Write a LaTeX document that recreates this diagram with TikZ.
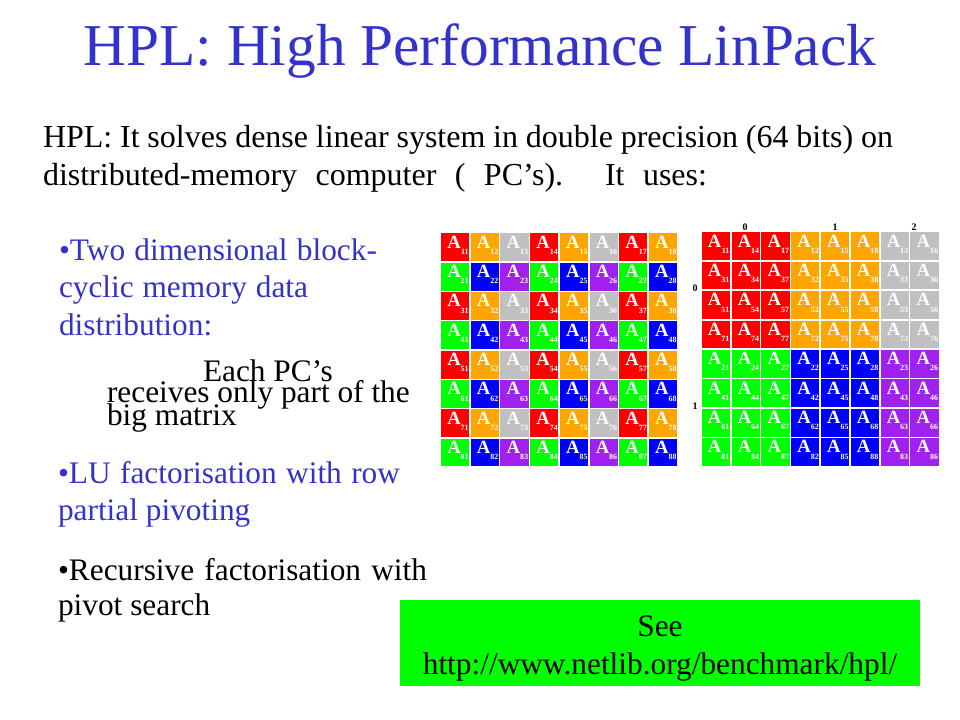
\documentclass[tikz,border=0pt]{standalone}
\usepackage{fontspec}
\setmainfont{Liberation Serif}
\usetikzlibrary{calc}
\definecolor{slideblue}{RGB}{51,51,204}
\definecolor{c11}{RGB}{255,0,0}
\definecolor{c12}{RGB}{255,165,0}
\definecolor{c10}{RGB}{192,192,192}
\definecolor{c01}{RGB}{0,255,0}
\definecolor{c02}{RGB}{0,0,255}
\definecolor{c00}{RGB}{160,32,240}
\definecolor{boxgreen}{RGB}{0,255,0}
\begin{document}
\begin{tikzpicture}[x=0.75pt,y=-0.75pt,
  txt/.style={anchor=base west, inner sep=0pt, outer sep=0pt},
  cell/.style={anchor=north west, minimum width=21.2pt, minimum height=20.85pt, inner sep=0pt, outer sep=0pt, draw=none},
  alab/.style={anchor=base west, inner sep=0pt, text=white, font=\fontsize{14}{14}\selectfont\bfseries},
  sublab/.style={anchor=base east, inner sep=0pt, text=white, font=\fontsize{6}{6}\selectfont\bfseries},
  axlab/.style={inner sep=0pt, font=\fontsize{7.5}{7.5}\selectfont\bfseries},
  bodytext/.style={txt, font=\fontsize{24}{28}\selectfont},
  bultext/.style={txt, font=\fontsize{23.5}{27}\selectfont},
  boxtext/.style={anchor=base, inner sep=0pt, font=\fontsize{23.5}{27}\selectfont},
]
\fill[white] (0,0) rectangle (960,720);
\useasboundingbox (0,0) rectangle (960,720);

% title
\node[anchor=base, inner sep=0pt, text=slideblue, font=\fontsize{44.5}{52}\selectfont] (title) at (480,65.5) {HPL: High Performance LinPack};

% body
\node[bodytext] (body1) at (43,147.3) {\makebox[637.5pt][s]{HPL: It solves dense linear system in double precision (64 bits) on}};
\node[bodytext] (body2) at (43,186) {\makebox[498pt][s]{distributed-memory computer ( PC’s). It uses:}};

% bullets
\node[bultext, text=slideblue] (b1a) at (59,261) {\makebox[238.5pt][s]{•Two dimensional block-}};
\node[bultext, text=slideblue] (b1b) at (59,297) {\makebox[186.75pt][s]{cyclic memory data}};
\node[bultext, text=slideblue] (b1c) at (59,335) {distribution:};
\node[bultext] (n1) at (203,381) {Each PC’s};
\node[bultext] (n2) at (107,402) {receives only part of the};
\node[bultext] (n3) at (107,425) {big matrix};
\node[bultext, text=slideblue] (b2a) at (58,483) {\makebox[256.5pt][s]{•LU factorisation with row}};
\node[bultext, text=slideblue] (b2b) at (58,520) {partial pivoting};
\node[bultext] (b3a) at (58,580) {\makebox[276.75pt][s]{•Recursive factorisation with}};
\node[bultext] (b3b) at (58,615) {pivot search};

% green box
\node[fill=boxgreen, anchor=north west, minimum width=390pt, minimum height=64.5pt, inner sep=0pt] (seebox) at (400,600) {};
\node[boxtext] (see) at (660,636) {See};
\node[boxtext] (url) at (660,674) {http://www.netlib.org/benchmark/hpl/};

% left matrix
\foreach \i in {1,...,8}{
  \foreach \j in {1,...,8}{
    \pgfmathtruncatemacro\rp{mod(\i,2)}
    \pgfmathtruncatemacro\cm{mod(\j,3)}
    \node[cell, fill=c\rp\cm] (L\i\j) at ({441+29.7*(\j-1)},{233.5+29.3*(\i-1)}) {};
    \node[alab] (LA\i\j) at ($(L\i\j.north west)+(6,14.8)$) {A};
    \node[sublab] (LS\i\j) at ($(L\i\j.north east)+(-0.3,21)$) {\i\j};
  }
}

% right matrix
\foreach \i [count=\r] in {1,3,5,7,2,4,6,8}{
  \foreach \j [count=\c] in {1,4,7,2,5,8,3,6}{
    \pgfmathtruncatemacro\rp{mod(\i,2)}
    \pgfmathtruncatemacro\cm{mod(\j,3)}
    \node[cell, fill=c\rp\cm] (R\i\j) at ({701.7+29.8*(\c-1)},{232.3+29.4*(\r-1)}) {};
    \node[alab] (RA\i\j) at ($(R\i\j.north west)+(6,14.8)$) {A};
    \node[sublab] (RS\i\j) at ($(R\i\j.north east)+(-0.3,21)$) {\i\j};
  }
}

% process grid labels
\node[axlab] (col0) at (745,227) {0};
\node[axlab] (col1) at (835,227) {1};
\node[axlab] (col2) at (914,227) {2};
\node[axlab] (row0) at (695,288) {0};
\node[axlab] (row1) at (695,406) {1};
\end{tikzpicture}
\end{document}
